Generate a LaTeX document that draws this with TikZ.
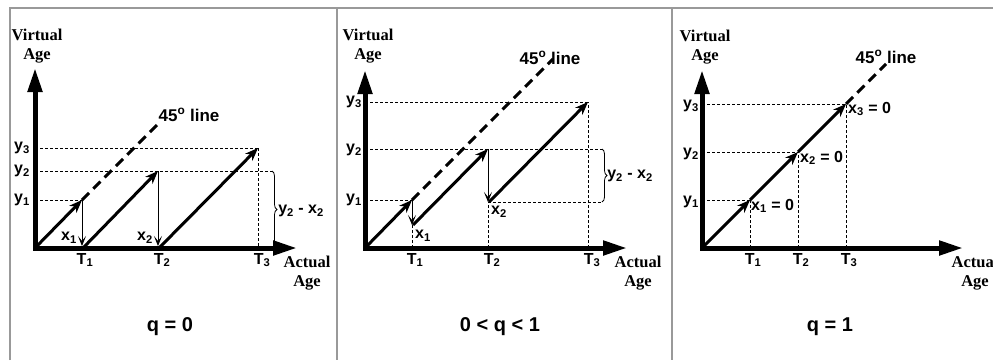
\documentclass[tikz,border=0pt]{standalone}
\usepackage{fontspec}
\setmainfont{Liberation Sans}
\newfontfamily\tnr{Liberation Serif}
\usetikzlibrary{arrows.meta,decorations.pathreplacing}
\begin{document}
\begin{tikzpicture}[x=1pt,y=-1pt,
  frame/.style={draw=black!40,line width=1.5pt},
  axes/.style={line width=5pt,line join=miter,{Triangle[length=24pt,width=14pt]}-{Triangle[length=24pt,width=14pt]}},
  thickarr/.style={line width=3pt,-{Stealth[length=13pt,width=10pt,inset=4pt]}},
  thinarr/.style={line width=1pt,-{Stealth[length=10pt,width=8pt,inset=5pt]}},
  dashline/.style={line width=3pt,dash pattern=on 10pt off 6pt},
  dotline/.style={line width=0.8pt,dash pattern=on 3pt off 2pt},
  lbl/.style={font=\bfseries\fontsize{16}{18}\selectfont,inner sep=0pt},
  linelbl/.style={font=\bfseries\fontsize{17}{19}\selectfont,inner sep=0pt},
  axlbl/.style={font=\tnr\bfseries\fontsize{16.5}{19}\selectfont,inner sep=0pt,align=center},
  captxt/.style={font=\bfseries\fontsize{20}{22}\selectfont,inner sep=0pt},
  brc/.style={decorate,decoration={brace,amplitude=5pt},line width=0.8pt},
]
\useasboundingbox (0,0) rectangle (993,360);
% frame
\draw[frame] (10,360) -- (10,8) -- (993,8);
\draw[frame] (337,8) -- (337,360);
\draw[frame] (672,8) -- (672,360);

% ---------------- panel 1: q = 0
\coordinate (o1) at (35,248);
\coordinate (ya1) at (35,68);
\coordinate (xa1) at (297,248);
\coordinate (a1p1) at (82,200);  \coordinate (a1t1) at (82,246);
\coordinate (a1s1) at (83,248);
\coordinate (a1p2) at (158,171); \coordinate (a1t2) at (158,246);
\coordinate (a1s2) at (159,248);
\coordinate (a1p3) at (258,148); \coordinate (a1t3) at (258,248);
\coordinate (a1d) at (160,122);
\coordinate (a1y1) at (35,200); \coordinate (a1y2) at (35,171); \coordinate (a1y3) at (35,148);
\coordinate (a1b1) at (272,171); \coordinate (a1b2) at (272,248);
\draw[dotline] (a1y1) -- (a1p1);
\draw[dotline] (a1y2) -- (a1b1);
\draw[dotline] (a1y3) -- (a1p3);
\draw[dotline] (a1p3) -- (a1t3);
\draw[dashline] (a1p1) -- (a1d);
\draw[thickarr] (o1) -- (a1p1);
\draw[thinarr] (a1p1) -- (a1t1);
\draw[thickarr] (a1s1) -- (a1p2);
\draw[thinarr] (a1p2) -- (a1t2);
\draw[thickarr] (a1s2) -- (a1p3);
\draw[brc] (a1b1) -- (a1b2);
\draw[axes] (ya1) -- (o1) -- (xa1);
\node[axlbl] (va1) at (37,46) {Virtual\\Age};
\node[axlbl] (aa1) at (307,273) {Actual\\Age};
\node[lbl] (y31) at (22,148) {y\textsubscript{3}};
\node[lbl] (y21) at (22,171) {y\textsubscript{2}};
\node[lbl] (y11) at (22,200) {y\textsubscript{1}};
\node[lbl] (x11) at (69,238) {x\textsubscript{1}};
\node[lbl] (x21) at (145,238) {x\textsubscript{2}};
\node[lbl] (T11) at (85,260) {T\textsubscript{1}};
\node[lbl] (T21) at (162,260) {T\textsubscript{2}};
\node[lbl] (T31) at (262,260) {T\textsubscript{3}};
\node[linelbl] (l1) at (189,115) {45\textsuperscript{o} line};
\node[lbl] (d1) at (301,211) {y\textsubscript{2} - x\textsubscript{2}};
\node[captxt] (c1) at (170,327) {q = 0};

% ---------------- panel 2: 0 < q < 1
\coordinate (o2) at (365,248);
\coordinate (ya2) at (365,70);
\coordinate (xa2) at (627,248);
\coordinate (b2p1) at (412,200); \coordinate (b2q1) at (412,225);
\coordinate (b2s1) at (413,225);
\coordinate (b2p2) at (488,149); \coordinate (b2q2) at (488,202);
\coordinate (b2s2) at (489,202);
\coordinate (b2p3) at (588,102);
\coordinate (b2d) at (553,59);
\coordinate (b2y1) at (365,200); \coordinate (b2y2) at (365,149); \coordinate (b2y3) at (365,102);
\coordinate (b2b1) at (602,149); \coordinate (b2b2) at (602,202);
\coordinate (b2t1) at (412,248); \coordinate (b2t2) at (488,248); \coordinate (b2t3) at (588,248);
\draw[dotline] (b2y1) -- (b2p1);
\draw[dotline] (b2y2) -- (b2b1);
\draw[dotline] (b2y3) -- (b2p3);
\draw[dotline] (b2q2) -- (b2b2);
\draw[dotline] (b2t1) -- (b2q1);
\draw[dotline] (b2t2) -- (b2q2);
\draw[dotline] (b2t3) -- (b2p3);
\draw[dashline] (b2p1) -- (b2d);
\draw[thickarr] (o2) -- (b2p1);
\draw[thinarr] (b2p1) -- (b2q1);
\draw[thickarr] (b2s1) -- (b2p2);
\draw[thinarr] (b2p2) -- (b2q2);
\draw[thickarr] (b2s2) -- (b2p3);
\draw[brc] (b2b1) -- (b2b2);
\draw[axes] (ya2) -- (o2) -- (xa2);
\node[axlbl] (va2) at (368,46) {Virtual\\Age};
\node[axlbl] (aa2) at (638,273) {Actual\\Age};
\node[lbl] (y32) at (354,102) {y\textsubscript{3}};
\node[lbl] (y22) at (354,150) {y\textsubscript{2}};
\node[lbl] (y12) at (354,200) {y\textsubscript{1}};
\node[lbl] (x12) at (423,236) {x\textsubscript{1}};
\node[lbl] (x22) at (499,212) {x\textsubscript{2}};
\node[lbl] (T12) at (415,260) {T\textsubscript{1}};
\node[lbl] (T22) at (492,260) {T\textsubscript{2}};
\node[lbl] (T32) at (592,260) {T\textsubscript{3}};
\node[linelbl] (l2) at (550,58) {45\textsuperscript{o} line};
\node[lbl] (d2) at (630,176) {y\textsubscript{2} - x\textsubscript{2}};
\node[captxt] (c2) at (500,327) {0 < q < 1};

% ---------------- panel 3: q = 1
\coordinate (o3) at (702,248);
\coordinate (ya3) at (702,70);
\coordinate (xa3) at (963,248);
\coordinate (c3p1) at (750,200); \coordinate (c3p2) at (798,152); \coordinate (c3p3) at (846,104);
\coordinate (c3d) at (886,64);
\coordinate (c3y1) at (702,200); \coordinate (c3y2) at (702,152); \coordinate (c3y3) at (702,104);
\coordinate (c3t1) at (750,248); \coordinate (c3t2) at (798,248); \coordinate (c3t3) at (846,248);
\draw[dotline] (c3y1) -- (c3p1);
\draw[dotline] (c3y2) -- (c3p2);
\draw[dotline] (c3y3) -- (c3p3);
\draw[dotline] (c3t1) -- (c3p1);
\draw[dotline] (c3t2) -- (c3p2);
\draw[dotline] (c3t3) -- (c3p3);
\draw[dashline] (c3p3) -- (c3d);
\draw[thickarr] (o3) -- (c3p1);
\draw[thickarr] (c3p1) -- (c3p2);
\draw[thickarr] (c3p2) -- (c3p3);
\draw[axes] (ya3) -- (o3) -- (xa3);
\node[axlbl] (va3) at (705,47) {Virtual\\Age};
\node[axlbl] (aa3) at (975,273) {Actual\\Age};
\node[lbl] (y33) at (691,106) {y\textsubscript{3}};
\node[lbl] (y23) at (691,154) {y\textsubscript{2}};
\node[lbl] (y13) at (691,202) {y\textsubscript{1}};
\node[lbl,anchor=west] (x13) at (751,206) {x\textsubscript{1} = 0};
\node[lbl,anchor=west] (x23) at (800,158) {x\textsubscript{2} = 0};
\node[lbl,anchor=west] (x33) at (848,109) {x\textsubscript{3} = 0};
\node[lbl] (T13) at (753,260) {T\textsubscript{1}};
\node[lbl] (T23) at (801,260) {T\textsubscript{2}};
\node[lbl] (T33) at (849,260) {T\textsubscript{3}};
\node[linelbl] (l3) at (886,57) {45\textsuperscript{o} line};
\node[captxt] (c3) at (830,327) {q = 1};
\end{tikzpicture}
\end{document}
